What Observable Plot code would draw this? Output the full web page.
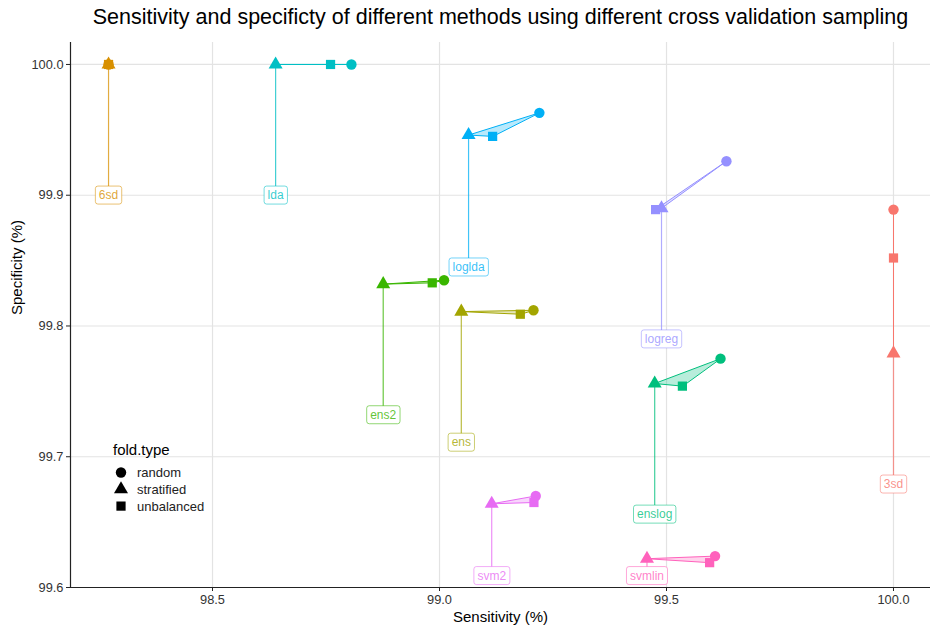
<!DOCTYPE html>
<html>
<head>
<meta charset="utf-8">
<script src="https://cdn.jsdelivr.net/npm/d3@7"></script>
<script src="https://cdn.jsdelivr.net/npm/@observablehq/plot@0.6"></script>
<style>
  body { margin: 0; background: #fff; font-family: "Liberation Sans", Arial, sans-serif; }
  #wrap { position: relative; width: 930px; height: 631px; }
  #legend { position: absolute; left: 108px; top: 438px; }
</style>
</head>
<body>
<div id="wrap"></div>
<script>
// ---- data ----
const methods = ["3sd", "6sd", "ens", "ens2", "enslog", "lda", "loglda", "logreg", "svm2", "svmlin"];
const colors  = ["#F8766D", "#D89000", "#A3A500", "#39B600", "#00BF7D", "#00BFC4", "#00B0F6", "#9590FF", "#E76BF3", "#FF62BC"];
const foldTypes = ["random", "stratified", "unbalanced"];
const sensRandom     = [100.0,  98.271, 99.207, 99.010, 99.619, 98.806, 99.220, 99.632, 99.212, 99.607];
const specRandom     = [99.889, 100.0,  99.812, 99.835, 99.775, 100.0,  99.963, 99.926, 99.670, 99.624];
const sensStratified = [100.0,  98.271, 99.048, 98.876, 99.474, 98.639, 99.064, 99.489, 99.115, 99.457];
const specStratified = [99.779, 100.0,  99.811, 99.832, 99.756, 100.0,  99.946, 99.890, 99.664, 99.622];
const sensUnbalanced = [100.0,  98.271, 99.178, 98.984, 99.535, 98.760, 99.117, 99.476, 99.208, 99.595];
const specUnbalanced = [99.852, 100.0,  99.809, 99.833, 99.754, 100.0,  99.945, 99.889, 99.665, 99.619];
const labelSpec      = [99.679, 99.900, 99.711, 99.732, 99.656, 99.900, 99.845, 99.790, 99.609, 99.609];
const xTicks = [98.5, 99.0, 99.5, 100.0];
const yTicks = [99.6, 99.7, 99.8, 99.9, 100.0];
const xDomain = [98.1872, 100.0815];
const yDomain = [99.6, 100.0168];
const titleText = "Sensitivity and specificty of different methods using different cross validation sampling";

// ---- tables ----
const points = [];
methods.forEach((m, i) => {
  points.push({method: m, fold: "random", sens: sensRandom[i], spec: specRandom[i]});
  points.push({method: m, fold: "stratified", sens: sensStratified[i], spec: specStratified[i]});
  points.push({method: m, fold: "unbalanced", sens: sensUnbalanced[i], spec: specUnbalanced[i]});
});
const labels = methods.map((m, i) => ({method: m, sens: sensStratified[i], spec: specStratified[i], ly: labelSpec[i]}));

const font = "Liberation Sans, Arial, sans-serif";

const plot = Plot.plot({
  width: 930,
  height: 631,
  marginLeft: 70,
  marginRight: 0,
  marginTop: 42,
  marginBottom: 44,
  style: {fontFamily: font, fontSize: "13px", background: "#fff", color: "#222"},
  x: {domain: xDomain},
  y: {domain: yDomain},
  color: {domain: methods, range: colors},
  symbol: {domain: foldTypes, range: ["circle", "triangle", "square"]},
  marks: [
    Plot.gridX(xTicks, {stroke: "#e3e3e3", strokeOpacity: 1, strokeWidth: 1.2}),
    Plot.gridY(yTicks, {stroke: "#e3e3e3", strokeOpacity: 1, strokeWidth: 1.2}),
    Plot.axisX(xTicks, {tickFormat: d3.format(".1f"), tickSize: 4, tickPadding: 3, label: null, fontSize: 12.8, fill: "#333"}),
    Plot.axisY(yTicks, {tickFormat: d3.format(".1f"), tickSize: 4, tickPadding: 3, label: null, fontSize: 12.8, fill: "#333"}),
    Plot.ruleX([xDomain[0]], {stroke: "#222", strokeWidth: 1.2}),
    Plot.ruleY([yDomain[0]], {stroke: "#222", strokeWidth: 1.2}),
    Plot.link(labels, {x1: "sens", x2: "sens", y1: "ly", y2: "spec", stroke: "method", strokeOpacity: 0.75, strokeWidth: 1.2}),
    Plot.text(labels, {x: "sens", y: "ly", text: "method", fill: "method", fillOpacity: 0.8, fontSize: 12}),
    Plot.line(points, {x: "sens", y: "spec", z: "method", stroke: "method", fill: "method", fillOpacity: 0.28, strokeWidth: 1, curve: "linear-closed"}),
    Plot.dot(points, {x: "sens", y: "spec", fill: "method", symbol: "fold", r: 5.2, stroke: null}),
    Plot.text([titleText], {frameAnchor: "top", lineAnchor: "middle", dy: -25, fontSize: 21.5, fill: "#000"}),
    Plot.text(["Sensitivity (%)"], {frameAnchor: "bottom", lineAnchor: "middle", dy: 30, fontSize: 15, fill: "#000"}),
    Plot.text(["Specificity (%)"], {frameAnchor: "left", dx: -53, rotate: -90, fontSize: 15, fill: "#000"})
  ]
});

const wrap = document.getElementById("wrap");
wrap.appendChild(plot);

// label boxes behind method label texts
const colorOf = Object.fromEntries(methods.map((m, i) => [m, colors[i]]));
plot.querySelectorAll("text").forEach((t) => {
  const m = t.textContent;
  if (!(m in colorOf)) return;
  const bb = t.getBBox();
  const r = document.createElementNS("http://www.w3.org/2000/svg", "rect");
  const padX = 3.5, padY = 2;
  r.setAttribute("x", bb.x - padX);
  r.setAttribute("y", bb.y - padY);
  r.setAttribute("width", bb.width + 2 * padX);
  r.setAttribute("height", bb.height + 2 * padY);
  r.setAttribute("rx", 2.5);
  r.setAttribute("fill", "#fff");
  r.setAttribute("fill-opacity", 1);
  r.setAttribute("stroke", colorOf[m]);
  r.setAttribute("stroke-opacity", 0.55);
  r.setAttribute("stroke-width", 1);
  const tr = t.getAttribute("transform");
  if (tr) r.setAttribute("transform", tr);
  t.parentNode.insertBefore(r, t);
});

// legend for fold.type
const leg = document.createElement("div");
leg.id = "legend";
const ns = "http://www.w3.org/2000/svg";
const ls = document.createElementNS(ns, "svg");
ls.setAttribute("width", 140);
ls.setAttribute("height", 82);
ls.style.fontFamily = font;
const title = document.createElementNS(ns, "text");
title.setAttribute("x", 5); title.setAttribute("y", 17);
title.setAttribute("font-size", 15); title.textContent = "fold.type";
ls.appendChild(title);
const sym = [d3.symbolCircle, d3.symbolTriangle, d3.symbolSquare];
foldTypes.forEach((f, i) => {
  const y = 34.5 + i * 16.8;
  const p = document.createElementNS(ns, "path");
  p.setAttribute("d", d3.symbol(sym[i], Math.PI * 5.2 * 5.2)());
  p.setAttribute("transform", `translate(13,${y})`);
  p.setAttribute("fill", "#000");
  ls.appendChild(p);
  const t = document.createElementNS(ns, "text");
  t.setAttribute("x", 29); t.setAttribute("y", y + 4.5);
  t.setAttribute("font-size", 13); t.setAttribute("fill", "#222");
  t.textContent = f;
  ls.appendChild(t);
});
leg.appendChild(ls);
wrap.appendChild(leg);
</script>
</body>
</html>
